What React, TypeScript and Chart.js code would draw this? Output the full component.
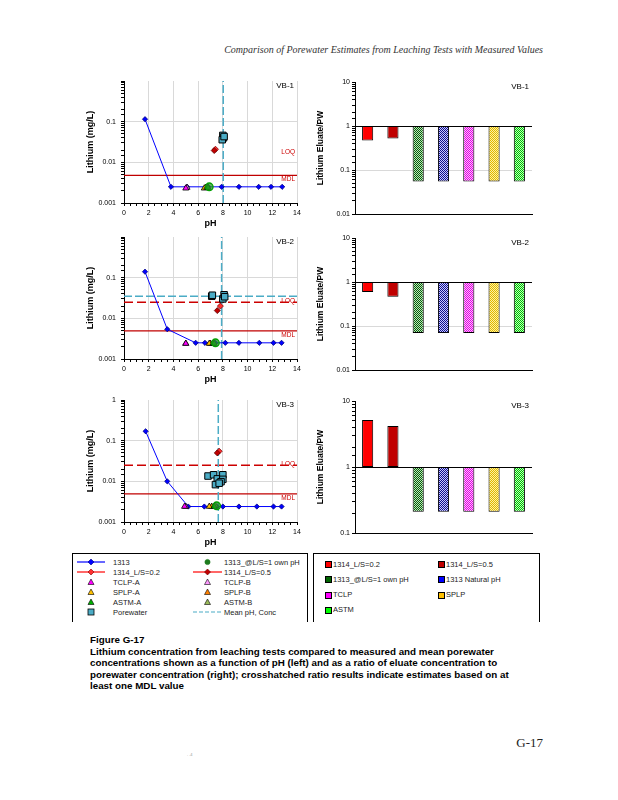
import React, { useEffect, useRef } from 'react';
import { Chart, registerables } from 'chart.js';
Chart.register(...registerables);

type Pt = [number, number];

// ---------------- DATA ----------------
const sampleNames = ['VB-1', 'VB-2', 'VB-3'];
const leachSeries = ['1313', '1313_@L/S=1 own pH', '1314_L/S=0.2', '1314_L/S=0.5', 'TCLP-A', 'TCLP-B', 'SPLP-A', 'SPLP-B', 'ASTM-A', 'ASTM-B', 'Porewater', 'Mean pH, Conc'];
const ratioCategories = ['1314_L/S=0.2', '1314_L/S=0.5', '1313_@L/S=1 own pH', '1313 Natural pH', 'TCLP', 'SPLP', 'ASTM'];
const ratioHatched = [false, false, true, true, true, true, true];
const phRange = [0, 14];
const concRange = [0.001, 1];
const ratioMax = 10;
const ratioMins = [0.01, 0.01, 0.1];

// VB-1
const vb1_1313: Pt[] = [[1.7, 0.115], [3.8, 0.0025], [5.1, 0.0025], [6.8, 0.0025], [7.9, 0.0025], [9.3, 0.0025], [10.9, 0.0025], [11.9, 0.0025], [12.8, 0.0025]];
const vb1_ownPH: Pt[] = [[6.9, 0.0025]];
const vb1_1314a: Pt[] = [[7.4, 0.021]];
const vb1_1314b: Pt[] = [[7.3, 0.0195]];
const vb1_tclpA: Pt[] = [[5.0, 0.0023]];
const vb1_tclpB: Pt[] = [[5.1, 0.0024]];
const vb1_splpA: Pt[] = [[6.5, 0.0023]];
const vb1_splpB: Pt[] = [[6.6, 0.0024]];
const vb1_astmA: Pt[] = [[6.8, 0.0024]];
const vb1_astmB: Pt[] = [[6.7, 0.0024]];
const vb1_pore: Pt[] = [[8.0, 0.046], [8.05, 0.04], [7.95, 0.036], [8.1, 0.043]];
const vb1_meanPH = 8.03;
const vb1_meanConc: number | null = null;
const vb1_ratio = [0.47, 0.52, 0.055, 0.055, 0.055, 0.055, 0.055];

// VB-2
const vb2_1313: Pt[] = [[1.7, 0.14], [3.5, 0.0054], [5.8, 0.0025], [6.55, 0.0025], [7.4, 0.0025], [8.2, 0.0025], [9.3, 0.0025], [10.95, 0.0025], [12.1, 0.0025], [12.75, 0.0025]];
const vb2_ownPH: Pt[] = [[7.4, 0.0025]];
const vb2_1314a: Pt[] = [[7.8, 0.02]];
const vb2_1314b: Pt[] = [[7.55, 0.0155]];
const vb2_tclpA: Pt[] = [[5.0, 0.0024]];
const vb2_tclpB: Pt[] = [[5.0, 0.0024]];
const vb2_splpA: Pt[] = [[6.9, 0.0024]];
const vb2_splpB: Pt[] = [[7.0, 0.0024]];
const vb2_astmA: Pt[] = [[7.3, 0.0024]];
const vb2_astmB: Pt[] = [[7.2, 0.0024]];
const vb2_pore: Pt[] = [[7.1, 0.035], [7.15, 0.037], [8.0, 0.03], [8.1, 0.038], [8.15, 0.034]];
const vb2_meanPH = 7.9;
const vb2_meanConc: number | null = 0.035;
const vb2_ratio = [0.59, 0.46, 0.069, 0.069, 0.069, 0.069, 0.069];

// VB-3
const vb3_1313: Pt[] = [[1.75, 0.17], [3.5, 0.01], [5.2, 0.0024], [6.5, 0.0024], [7.5, 0.0024], [8.0, 0.0024], [9.3, 0.0024], [10.75, 0.0024], [12.1, 0.0024], [12.75, 0.0024]];
const vb3_ownPH: Pt[] = [[7.5, 0.0025]];
const vb3_1314a: Pt[] = [[7.7, 0.055]];
const vb3_1314b: Pt[] = [[7.55, 0.05]];
const vb3_tclpA: Pt[] = [[4.9, 0.0024]];
const vb3_tclpB: Pt[] = [[5.0, 0.0024]];
const vb3_splpA: Pt[] = [[6.9, 0.0024]];
const vb3_splpB: Pt[] = [[7.1, 0.0024]];
const vb3_astmA: Pt[] = [[7.3, 0.0024]];
const vb3_astmB: Pt[] = [[7.4, 0.0025]];
const vb3_pore: Pt[] = [[6.8, 0.0135], [7.25, 0.0145], [7.55, 0.0115], [7.4, 0.0083], [8.0, 0.0145], [8.0, 0.0112], [7.85, 0.0098], [7.7, 0.009]];
const vb3_meanPH = 7.63;
const vb3_meanConc: number | null = null;
const vb3_ratio = [5.15, 4.17, 0.209, 0.209, 0.209, 0.209, 0.209];

// reference limits [LOQ, MDL] (mg/L)
const loqValues = [0.017, 0.025, 0.025];
const loqLineShown = [false, true, true];
const mdlValues = [0.0048, 0.0049, 0.0049];
const refLabels = ['LOQ', 'MDL'];

const caption = [
  'Figure G-17',
  'Lithium concentration from leaching tests compared to measured and mean porewater',
  'concentrations shown as a function of pH (left) and as a ratio of eluate concentration to',
  'porewater concentration (right); crosshatched ratio results indicate estimates based on at',
  'least one MDL value',
];
const headerText = 'Comparison of Porewater Estimates from Leaching Tests with Measured Values';
const pageText = 'G-17';

const panels = [
  { name: sampleNames[0], m1313: vb1_1313, ownPH: vb1_ownPH, a1314: vb1_1314a, b1314: vb1_1314b, tclpA: vb1_tclpA, tclpB: vb1_tclpB, splpA: vb1_splpA, splpB: vb1_splpB, astmA: vb1_astmA, astmB: vb1_astmB, pore: vb1_pore, meanPH: vb1_meanPH, meanConc: vb1_meanConc, ratio: vb1_ratio, ratioMin: ratioMins[0], loq: loqValues[0], loqLine: loqLineShown[0], mdl: mdlValues[0], showTop: false },
  { name: sampleNames[1], m1313: vb2_1313, ownPH: vb2_ownPH, a1314: vb2_1314a, b1314: vb2_1314b, tclpA: vb2_tclpA, tclpB: vb2_tclpB, splpA: vb2_splpA, splpB: vb2_splpB, astmA: vb2_astmA, astmB: vb2_astmB, pore: vb2_pore, meanPH: vb2_meanPH, meanConc: vb2_meanConc, ratio: vb2_ratio, ratioMin: ratioMins[1], loq: loqValues[1], loqLine: loqLineShown[1], mdl: mdlValues[1], showTop: false },
  { name: sampleNames[2], m1313: vb3_1313, ownPH: vb3_ownPH, a1314: vb3_1314a, b1314: vb3_1314b, tclpA: vb3_tclpA, tclpB: vb3_tclpB, splpA: vb3_splpA, splpB: vb3_splpB, astmA: vb3_astmA, astmB: vb3_astmB, pore: vb3_pore, meanPH: vb3_meanPH, meanConc: vb3_meanConc, ratio: vb3_ratio, ratioMin: ratioMins[2], loq: loqValues[2], loqLine: loqLineShown[2], mdl: mdlValues[2], showTop: true },
];

// ---------------- STYLES ----------------
const FONT = '"Liberation Sans", Arial, sans-serif';
const leachStyle: Record<string, any> = {
  '1313': { kind: 'diamond', fill: '#0000FF', stroke: '#000080', line: '#0000FF', r: 2.6 },
  '1313_@L/S=1 own pH': { kind: 'circle', fill: 'rgba(40,150,40,0.75)', stroke: '#00A000', r: 3.8, legendFill: '#1E7B1E' },
  '1314_L/S=0.2': { kind: 'diamond', fill: '#FF3030', stroke: '#800000', line: '#FF0000', r: 3 },
  '1314_L/S=0.5': { kind: 'diamond', fill: '#C00000', stroke: '#600000', line: '#FF0000', r: 3 },
  'TCLP-A': { kind: 'triangle', fill: '#FF00FF', stroke: '#000', r: 3.5 },
  'TCLP-B': { kind: 'triangle', fill: '#FF99FF', stroke: '#000', r: 3.5 },
  'SPLP-A': { kind: 'triangle', fill: '#FFC000', stroke: '#000', r: 3.5 },
  'SPLP-B': { kind: 'triangle', fill: '#FF8000', stroke: '#000', r: 3.5 },
  'ASTM-A': { kind: 'triangle', fill: '#00B000', stroke: '#000', r: 3.5 },
  'ASTM-B': { kind: 'triangle', fill: '#9BBB59', stroke: '#000', r: 3.5 },
  'Porewater': { kind: 'square', fill: '#4BACC6', stroke: '#000', r: 4.6 },
  'Mean pH, Conc': { kind: 'none', line: '#4BACC6', dash: '4,2' },
};
const ratioColors = ['#FF0000', '#C00000', '#0A5A0A', '#10108A', '#E000E0', '#E0B800', '#00C000'];
const ratioBg = ['#FF0000', '#C00000', '#B8E8B8', '#C8C8FF', '#FFC0FF', '#FFF2A0', '#B8FFB8'];
const ratioLegendColors = ['#FF0000', '#C00000', '#006400', '#0000FF', '#FF00FF', '#FFC000', '#00FF00'];

const leftTops = [81, 237, 400];
const rightTops = [82, 238, 401];

const isDecade = (v: number) => v > 0 && Math.abs(Math.log10(v) - Math.round(Math.log10(v))) < 1e-6;
const fmt = (v: number) => String(Number(v.toPrecision(1)));

const annotPlugin = {
  id: 'annot',
  afterDatasetsDraw(chart: any, _a: any, opts: any) {
    const { ctx, chartArea } = chart;
    ctx.save();
    ctx.fillStyle = '#000';
    ctx.font = `8px ${FONT}`;
    ctx.textAlign = 'right';
    ctx.textBaseline = 'middle';
    ctx.fillText(opts.label, chartArea.right - 3, chartArea.top + 4.5);
    (opts.refs || []).forEach((r: any) => {
      const y = chart.scales.y.getPixelForValue(r.value);
      ctx.fillStyle = '#CC0000';
      ctx.font = `6.5px ${FONT}`;
      ctx.textBaseline = r.below ? 'top' : 'bottom';
      ctx.fillText(r.text, chartArea.right - 2, r.below ? y + 1 : y + 2);
    });
    ctx.restore();
  },
};

function hatch(color: string, bg: string) {
  const c = document.createElement('canvas');
  c.width = 2;
  c.height = 2;
  const g = c.getContext('2d')!;
  g.fillStyle = bg;
  g.fillRect(0, 0, 2, 2);
  g.fillStyle = color;
  g.fillRect(0, 0, 1, 1);
  g.fillRect(1, 1, 1, 1);
  return g.createPattern(c, 'repeat')!;
}

function buildLeach(p: any): any {
  const pts = (a: Pt[]) => a.map(([x, y]) => ({ x, y }));
  const mk = (name: string, data: Pt[], bw = 0.8) => {
    const s = leachStyle[name];
    const style = s.kind === 'diamond' ? 'rectRot' : s.kind === 'square' ? 'rect' : s.kind;
    return { label: name, data: pts(data), pointStyle: style, pointRadius: s.r, backgroundColor: s.fill, borderColor: s.stroke, borderWidth: bw, showLine: false };
  };
  const s1313 = leachStyle['1313'];
  const meanS = leachStyle['Mean pH, Conc'];
  const datasets: any[] = [
    mk('1313_@L/S=1 own pH', p.ownPH, 1.3),
    mk('ASTM-A', p.astmA),
    mk('ASTM-B', p.astmB),
    mk('SPLP-A', p.splpA),
    mk('SPLP-B', p.splpB),
    mk('TCLP-A', p.tclpA),
    mk('TCLP-B', p.tclpB),
    mk('1314_L/S=0.5', p.b1314),
    mk('1314_L/S=0.2', p.a1314),
    mk('Porewater', p.pore, 1),
    {
      label: '1313', data: pts(p.m1313), showLine: true, borderColor: s1313.line, borderWidth: 1,
      pointStyle: 'rectRot', pointRadius: s1313.r, pointBackgroundColor: s1313.fill, pointBorderColor: s1313.stroke, pointBorderWidth: 0.8,
    },
  ];
  if (p.meanPH != null) {
    datasets.push({ label: 'Mean pH', data: [{ x: p.meanPH, y: concRange[0] }, { x: p.meanPH, y: concRange[1] }], showLine: true, borderColor: meanS.line, borderWidth: 1.5, borderDash: [8, 3], pointRadius: 0 });
  }
  if (p.meanConc != null) {
    datasets.push({ label: 'Mean Conc', data: [{ x: phRange[0], y: p.meanConc }, { x: phRange[1], y: p.meanConc }], showLine: true, borderColor: meanS.line, borderWidth: 1.5, borderDash: [8, 3], pointRadius: 0 });
  }
  if (p.loqLine) {
    datasets.push({ label: refLabels[0], data: [{ x: phRange[0], y: p.loq }, { x: phRange[1], y: p.loq }], showLine: true, borderColor: '#CC0000', borderWidth: 1.5, borderDash: [9, 4], pointRadius: 0 });
  }
  datasets.push({ label: refLabels[1], data: [{ x: phRange[0], y: p.mdl }, { x: phRange[1], y: p.mdl }], showLine: true, borderColor: '#C00000', borderWidth: 1.2, pointRadius: 0 });

  return {
    type: 'scatter',
    data: { datasets },
    plugins: [annotPlugin],
    options: {
      animation: false,
      responsive: false,
      events: [],
      layout: { padding: { left: 0, right: 8, top: 8, bottom: 0 } },
      plugins: {
        legend: { display: false },
        tooltip: { enabled: false },
        annot: { label: p.name, refs: [{ text: refLabels[0], value: p.loq, below: false }, { text: refLabels[1], value: p.mdl, below: true }] },
      },
      scales: {
        x: {
          type: 'linear', min: phRange[0], max: phRange[1],
          ticks: { stepSize: 0.5, autoSkip: false, maxRotation: 0, font: { size: 7, family: FONT }, color: '#000', padding: 3, callback: (v: number) => (v % 2 === 0 ? String(v) : '') },
          grid: { color: (c: any) => (c.tick && c.tick.value % 2 === 0 ? '#d9d9d9' : 'transparent'), tickColor: '#000', tickLength: 3, lineWidth: 1 },
          border: { color: '#000', width: 1 },
          title: { display: true, text: 'pH', font: { size: 9, weight: 'bold', family: FONT }, padding: 0, color: '#000' },
          afterFit: (s: any) => { s.height = 26; s.paddingLeft = 0; s.paddingRight = 0; },
        },
        y: {
          type: 'logarithmic', min: concRange[0], max: concRange[1],
          ticks: { autoSkip: false, font: { size: 7, family: FONT }, color: '#000', padding: 5, callback: (v: number) => (isDecade(v) && (v < 0.9 || p.showTop) ? fmt(v) : '') },
          grid: { color: (c: any) => (c.tick && isDecade(c.tick.value) && c.tick.value > 0.0011 && c.tick.value < 0.9 ? '#d9d9d9' : 'transparent'), tickColor: '#000', tickLength: 3 },
          border: { color: '#000', width: 1 },
          title: { display: true, text: 'Lithium (mg/L)', font: { size: 9, weight: 'bold', family: FONT }, padding: 0, color: '#000' },
          afterFit: (s: any) => { s.width = 39; s.paddingTop = 0; s.paddingBottom = 0; },
        },
      },
    },
  };
}

function buildRatio(p: any): any {
  const bgs = ratioColors.map((c, i) => (ratioHatched[i] ? hatch(c, ratioBg[i]) : c));
  const min = p.ratioMin;
  return {
    type: 'bar',
    data: {
      labels: ratioCategories,
      datasets: [{ data: p.ratio.map((v: number) => [1, v]), backgroundColor: bgs, borderColor: '#000', borderWidth: 1, borderSkipped: false, barPercentage: 0.44, categoryPercentage: 1 }],
    },
    plugins: [annotPlugin],
    options: {
      animation: false,
      responsive: false,
      events: [],
      layout: { padding: { left: 0, right: 8, top: 8, bottom: 0 } },
      plugins: { legend: { display: false }, tooltip: { enabled: false }, annot: { label: p.name, refs: [] } },
      scales: {
        x: {
          grid: { color: 'transparent', drawTicks: false },
          ticks: { display: false },
          border: { color: '#000', width: 1 },
          afterFit: (s: any) => { s.height = 4; s.paddingLeft = 0; s.paddingRight = 0; },
        },
        y: {
          type: 'logarithmic', min, max: ratioMax,
          ticks: { autoSkip: false, font: { size: 7, family: FONT }, color: '#000', padding: 2, callback: (v: number) => (isDecade(v) ? fmt(v) : '') },
          grid: {
            color: (c: any) => {
              const v = c.tick ? c.tick.value : 0;
              if (Math.abs(v - 1) < 1e-9) return '#000';
              if (Math.abs(v - 0.1) < 1e-9 && min < 0.09) return '#d9d9d9';
              return 'transparent';
            },
            tickColor: '#000', tickLength: 3,
          },
          border: { color: '#000', width: 1 },
          title: { display: true, text: 'Lithium Eluate/PW', font: { size: 8.5, weight: 'bold', family: FONT }, padding: 0, color: '#000' },
          afterFit: (s: any) => { s.width = 39; s.paddingTop = 0; s.paddingBottom = 0; },
        },
      },
    },
  };
}

function ChartCanvas({ build, p, left, top, width, height }: any) {
  const ref = useRef<HTMLCanvasElement>(null);
  useEffect(() => {
    const chart = new Chart(ref.current!, build(p));
    return () => chart.destroy();
  }, []);
  return <canvas ref={ref} width={width} height={height} style={{ position: 'absolute', left, top, width, height }} />;
}

function Glyph({ name, left, cy, w }: any) {
  const s = leachStyle[name];
  const cx = w / 2;
  const c = 5;
  return (
    <svg width={w} height={10} style={{ position: 'absolute', left, top: cy - 5, overflow: 'visible' }}>
      {s.line && <line x1={0} y1={c} x2={w} y2={c} stroke={s.line} strokeWidth={1.2} strokeDasharray={s.dash} />}
      {s.kind === 'diamond' && <polygon points={`${cx},${c - 3} ${cx + 3},${c} ${cx},${c + 3} ${cx - 3},${c}`} fill={s.fill} stroke={s.stroke} strokeWidth={0.6} />}
      {s.kind === 'triangle' && <polygon points={`${cx},${c - 3} ${cx + 3},${c + 2.5} ${cx - 3},${c + 2.5}`} fill={s.fill} stroke={s.stroke} strokeWidth={0.6} />}
      {s.kind === 'circle' && <circle cx={cx} cy={c} r={2.6} fill={s.legendFill} stroke={s.legendFill} strokeWidth={0.6} />}
      {s.kind === 'square' && <rect x={cx - 3} y={c - 3} width={6} height={6} fill={s.fill} stroke={s.stroke} strokeWidth={0.8} />}
    </svg>
  );
}

const txt = (extra: any) => ({ position: 'absolute' as const, whiteSpace: 'nowrap' as const, ...extra });

export default function App() {
  const leftRowY = (i: number) => 562 + i * 10;
  const rightRowY = (i: number) => 564 + i * 15.3;
  return (
    <div style={{ position: 'absolute', left: 0, top: 0, width: 618, height: 800, background: '#fff', fontFamily: FONT, overflow: 'hidden' }}>
      <div style={txt({ right: 618 - 543, top: 43, fontFamily: '"Liberation Serif", "Times New Roman", serif', fontStyle: 'italic', fontSize: 10, color: '#333', lineHeight: '14px' })}>{headerText}</div>

      {panels.map((p, i) => (
        <ChartCanvas key={'l' + i} build={buildLeach} p={p} left={85} top={leftTops[i] - 8} width={220} height={156} />
      ))}
      {panels.map((p, i) => (
        <ChartCanvas key={'r' + i} build={buildRatio} p={p} left={316} top={rightTops[i] - 8} width={224} height={144} />
      ))}

      {/* left legend */}
      <div style={{ position: 'absolute', left: 72, top: 553, width: 234, height: 68, borderTop: '1px solid #000', borderLeft: '1px solid #000', borderRight: '1px solid #000' }} />
      {leachSeries.map((name, i) => {
        const row = Math.floor(i / 2);
        const col = i % 2;
        const y = leftRowY(row);
        return (
          <React.Fragment key={name}>
            <Glyph name={name} left={col === 0 ? 77 : 193} cy={y} w={col === 0 ? 28 : 29} />
            <div style={txt({ left: col === 0 ? 113 : 224, top: y - 4.5, fontSize: 7.5, lineHeight: '9px', color: '#222' })}>{name}</div>
          </React.Fragment>
        );
      })}

      {/* right legend */}
      <div style={{ position: 'absolute', left: 313, top: 553, width: 225, height: 68, borderTop: '1px solid #000', borderLeft: '1px solid #000', borderRight: '1px solid #000' }} />
      {ratioCategories.map((name, i) => {
        const row = Math.floor(i / 2);
        const col = i % 2;
        const y = rightRowY(row);
        const x = col === 0 ? 325 : 438;
        return (
          <React.Fragment key={name}>
            <div style={{ position: 'absolute', left: x, top: y - 3, width: 5, height: 5, background: ratioLegendColors[i], border: '0.8px solid #000' }} />
            <div style={txt({ left: x + 8, top: y - 4.5, fontSize: 7.5, lineHeight: '9px', color: '#222' })}>{name}</div>
          </React.Fragment>
        );
      })}

      {/* caption */}
      {caption.map((line, i) => (
        <div key={i} style={txt({ left: 90, top: 634 + i * 11.5, fontSize: 9.8, fontWeight: 'bold', lineHeight: '12px', color: '#000' })}>{line}</div>
      ))}

      <div style={txt({ right: 618 - 543, top: 735, fontFamily: '"Liberation Serif", "Times New Roman", serif', fontSize: 13, color: '#222', lineHeight: '16px' })}>{pageText}</div>
      <div style={txt({ left: 187, top: 752, fontSize: 4, color: '#999', lineHeight: '6px' })}>{'. .4'}</div>
    </div>
  );
}
